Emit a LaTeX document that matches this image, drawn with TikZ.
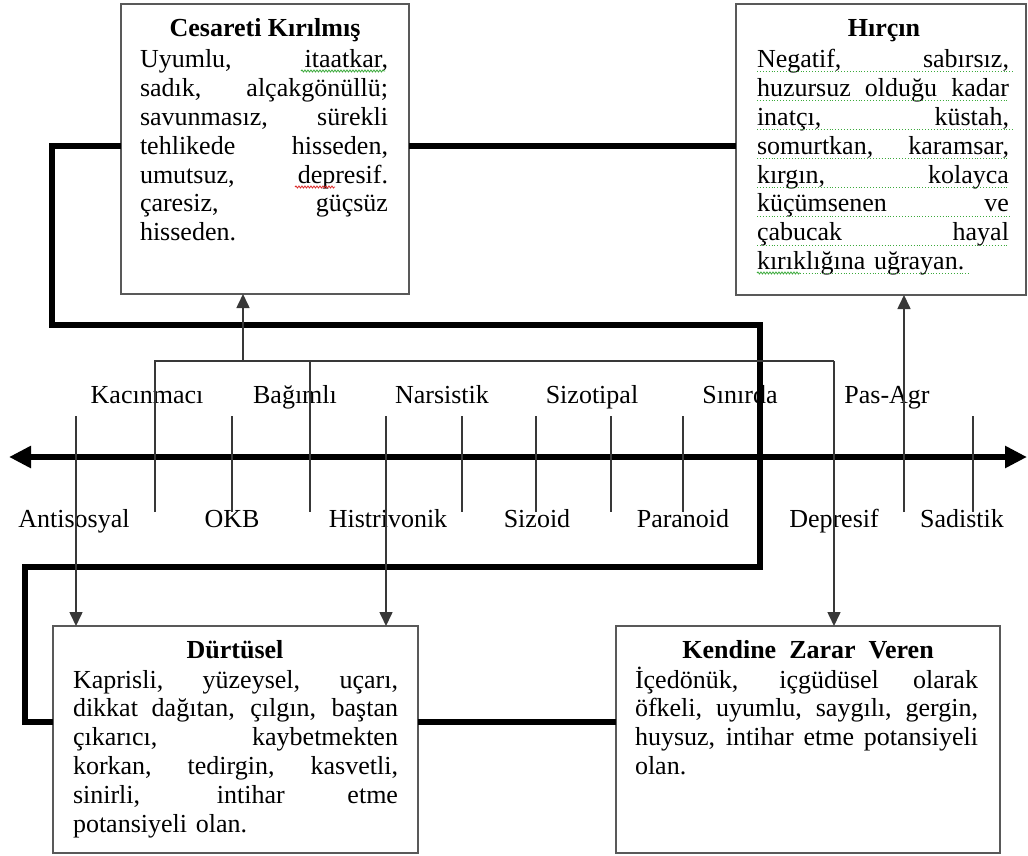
\documentclass[tikz,border=0pt]{standalone}
\usepackage{fontspec}
\setmainfont{Liberation Serif}
\usetikzlibrary{arrows.meta,decorations.pathmorphing}
\definecolor{boxgray}{gray}{0.35}
\definecolor{tickgray}{gray}{0.22}
\definecolor{checkgreen}{RGB}{60,170,60}
\definecolor{checkred}{RGB}{220,40,40}
% one fully justified line of a fixed-width block
\newcommand{\jl}[1]{\makebox[\linewidth][s]{\spaceskip=0.25em plus 1fill\relax #1}}
\begin{document}
\begin{tikzpicture}[x=1pt,y=-1pt,
  every node/.style={inner sep=0pt,outer sep=0pt,font=\fontsize{26}{28.8}\selectfont},
  box/.style={draw=boxgray,line width=2pt,fill=white,anchor=north west},
  body/.style={anchor=base west},
  title/.style={anchor=base,font=\fontsize{26}{28.8}\selectfont\bfseries},
  lbl/.style={anchor=base},
  tick/.style={draw=tickgray,line width=1.6pt},
  tip/.style={-{Triangle[length=14pt,width=13pt]}},
  heavy/.style={draw=black,line width=5.5pt},
  axisline/.style={draw=black,line width=6.5pt,
    {Triangle[length=22pt,width=21pt]}-{Triangle[length=22pt,width=21pt]}},
  grammar/.style={draw=checkgreen,line width=0.9pt,dotted},
  spellg/.style={draw=checkgreen,line width=0.8pt,decorate,
    decoration={snake,amplitude=1pt,segment length=3pt}},
  spellr/.style={draw=checkred,line width=0.8pt,decorate,
    decoration={snake,amplitude=1pt,segment length=3pt}},
]
\useasboundingbox (0,0) rectangle (1028,856);

% ---- the four profile boxes ----
\node[box,minimum width=288pt,minimum height=290pt] (ces) at (121,4) {};
\node[box,minimum width=290pt,minimum height=291pt] (hir) at (736,4) {};
\node[box,minimum width=365pt,minimum height=227pt] (dur) at (53,626) {};
\node[box,minimum width=384pt,minimum height=227pt] (kzv) at (616,626) {};

% ---- anchor heights for the heavy links ----
\coordinate (yTop) at (0,146);
\coordinate (yBot) at (0,722);

% heavy frame linking the four boxes
\draw[heavy] (ces.west |- yTop) -- (52,146) |- (760,325) |- (25,567) |- (dur.west |- yBot);
\draw[heavy] (ces.east |- yTop) -- (hir.west |- yTop);
\draw[heavy] (dur.east |- yBot) -- (kzv.west |- yBot);

% ---- the axis ----
\coordinate (axL) at (9,457);
\coordinate (axR) at (1027,457);
\draw[axisline] (axL) -- (axR);

% ---- axis labels ----
\node[lbl] (kac) at (147,403) {Kacınmacı};
\node[lbl] (bag) at (295,403) {Bağımlı};
\node[lbl] (nar) at (442,403) {Narsistik};
\node[lbl] (szt) at (592,403) {Sizotipal};
\node[lbl] (sin) at (740,403) {Sınırda};
\node[lbl] (pas) at (887,403) {Pas-Agr};

\node[lbl] (ant) at (74,527) {Antisosyal};
\node[lbl] (okb) at (232,527) {OKB};
\node[lbl] (his) at (388,527) {Histrivonik};
\node[lbl] (szd) at (537,527) {Sizoid};
\node[lbl] (par) at (683,527) {Paranoid};
\node[lbl] (dep) at (834,527) {Depresif};
\node[lbl] (sad) at (962,527) {Sadistik};

% ---- ticks on the axis ----
\foreach \x in {232,462,536,611,683,973}
  \draw[tick] (\x,416) -- (\x,512);
\draw[tick] (310,361) -- (310,512);

% bracket feeding the upper-left box
\coordinate (brL) at (155,361);
\coordinate (brM) at (243,361);
\coordinate (brR) at (834,361);
\draw[tick] (155,512) -- (brL) -- (brR);
\draw[tick,tip] (brM) -- (ces.south -| brM);
\draw[tick,tip] (brR) -- (kzv.north -| brR);

% remaining arrows
\coordinate (pasFoot) at (904,512);
\draw[tick,tip] (pasFoot) -- (hir.south -| pasFoot);
\coordinate (antTop) at (76,416);
\coordinate (hisTop) at (386,416);
\draw[tick,tip] (antTop) -- (dur.north -| antTop);
\draw[tick,tip] (hisTop) -- (dur.north -| hisTop);

% ---- box texts ----
\node[title] (cesT) at (265,37) {Cesareti Kırılmış};
\node[body,text width=248pt] (cesB) at (140,68) {%
\jl{Uyumlu, itaatkar,}\\
\jl{sadık, alçakgönüllü;}\\
\jl{savunmasız, sürekli}\\
\jl{tehlikede hisseden,}\\
\jl{umutsuz, depresif.}\\
\jl{çaresiz, güçsüz}\\
hisseden.};

\node[title] (hirT) at (884,37) {Hırçın};
\node[body,text width=252pt] (hirB) at (757,68) {%
\jl{Negatif, sabırsız,}\\
\jl{huzursuz olduğu kadar}\\
\jl{inatçı, küstah,}\\
\jl{somurtkan, karamsar,}\\
\jl{kırgın, kolayca}\\
\jl{küçümsenen ve}\\
\jl{çabucak hayal}\\
kırıklığına uğrayan.};

\node[title] (durT) at (235,658) {Dürtüsel};
\node[body,text width=325pt] (durB) at (73,688) {%
\jl{Kaprisli, yüzeysel, uçarı,}\\
\jl{dikkat dağıtan, çılgın, baştan}\\
\jl{çıkarıcı, kaybetmekten}\\
\jl{korkan, tedirgin, kasvetli,}\\
\jl{sinirli, intihar etme}\\
potansiyeli olan.};

\node[title] (kzvT) at (808,658) {Kendine\ \ Zarar\ \ Veren};
\node[body,text width=343pt] (kzvB) at (635,688) {%
\jl{İçedönük, içgüdüsel olarak}\\
\jl{öfkeli, uyumlu, saygılı, gergin,}\\
\jl{huysuz, intihar etme potansiyeli}\\
olan.};

% ---- proofing marks under some words ----
\draw[spellg] (301,71) -- (385,71);
\draw[spellr] (295,187) -- (335,187);
\foreach \y/\e in {71/1014,100/1009,129/1014,158/1009,187/1009,216/1012,245/1009}
  \draw[grammar] (757,\y) -- (\e,\y);
\draw[spellg] (757,273) -- (800,273);
\draw[grammar] (800,273) -- (970,273);
\end{tikzpicture}
\end{document}
